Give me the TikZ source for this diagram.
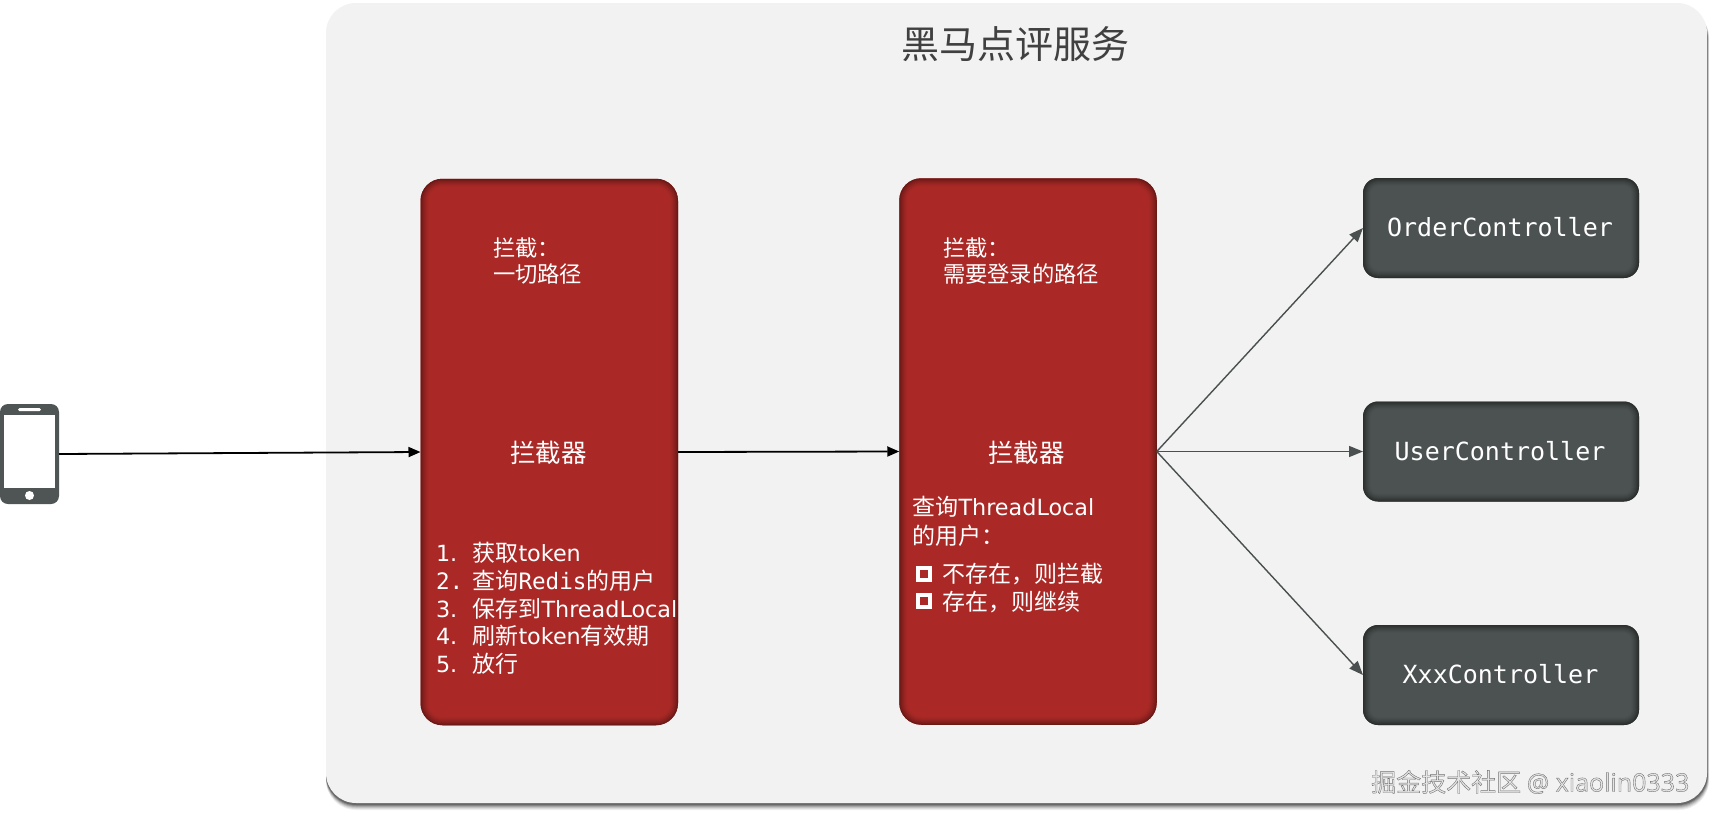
\documentclass[tikz,border=0pt]{standalone}
\usepackage{fontspec}
\setmainfont{Noto Sans CJK SC}
\newfontfamily\latf{DejaVu Sans}
\newfontfamily\wmf{Open Sans}
\newfontfamily\monof{DejaVu Sans Mono}
\usetikzlibrary{arrows.meta,calc}
\definecolor{panelc}{HTML}{F2F2F2}
\definecolor{redm}{HTML}{AA2926}
\definecolor{rede}{HTML}{6A1917}
\definecolor{darkm}{HTML}{4B5251}
\definecolor{darke}{HTML}{2B2F2E}
\definecolor{phonec}{HTML}{4F5555}
\definecolor{arrowc}{HTML}{4A4F4F}
\definecolor{titlec}{HTML}{404040}
\newcommand{\lat}[1]{{\latf\fontsize{22.3}{26}\selectfont #1}}
\tikzset{
  panelbox/.style={fill=panelc,rounded corners=30pt,minimum width=1381pt,minimum height=800pt,inner sep=0pt,outer sep=0pt},
  redbox/.style={fill=redm,rounded corners=22pt,minimum width=257.5pt,minimum height=546.5pt,inner sep=0pt,outer sep=0pt},
  darkbox/.style={fill=darkm,rounded corners=15pt,minimum width=276pt,minimum height=100pt,inner sep=0pt,outer sep=0pt},
  wtext/.style={text=white,inner sep=0pt,outer sep=0pt,align=left,anchor=north west,font=\fontsize{22.3}{26.3}\selectfont},
  ctext/.style={text=white,inner sep=0pt,outer sep=0pt,font=\fontsize{25.5}{30}\selectfont},
  monotext/.style={text=white,inner sep=0pt,outer sep=0pt,font=\monof\fontsize{25}{30}\selectfont},
  blackarrow/.style={draw=black,line width=1.8pt,-{Triangle[length=12pt,width=10pt]}},
  grayarrow/.style={draw=arrowc,line width=1.4pt,-{Triangle[length=14pt,width=11pt]}},
  bulletbox/.style={draw=white,line width=3.8pt,fill=redm,minimum size=12.4pt,inner sep=0pt,outer sep=0pt},
}
\newcommand{\glow}[4]{%
  \foreach \i/\c in {0/0,1/18,2/35,3/50,4/63,5/75,6/85,7/93}{
    \fill[#3!\c!#4,rounded corners=#2-\i pt] ($(#1.north west)+(\i,\i)$) rectangle ($(#1.south east)+(-\i,-\i)$);
  }
  \fill[#3,rounded corners=#2-8pt] ($(#1.north west)+(8,8)$) rectangle ($(#1.south east)+(-8,-8)$);
}
\begin{document}
\begin{tikzpicture}[x=1pt,y=-1pt]
\useasboundingbox (0,0) rectangle (1714,819);
\fill[white] (0,0) rectangle (1714,819);
% panel shadow
\foreach \o/\q in {7/0.06,6/0.08,5/0.10,4/0.14,3/0.18,2/0.25}{
  \fill[black,opacity=\q,rounded corners=30pt] (326,8) rectangle (1707+\o*0.3,803+\o);
}
\node[panelbox] (panel) at (1016.5,403) {};
\node[inner sep=0pt,text=titlec,font=\fontsize{38}{44}\selectfont] (title) at (1015,44) {黑马点评服务};

% boxes
\node[redbox] (box1) at (549.25,452) {};
\glow{box1}{22}{redm}{rede}
\node[redbox] (box2) at (1028,451.5) {};
\glow{box2}{22}{redm}{rede}
\node[darkbox] (c1) at (1501,228) {};
\glow{c1}{15}{darkm}{darke}
\node[darkbox] (c2) at (1501,451.5) {};
\glow{c2}{15}{darkm}{darke}
\node[darkbox] (c3) at (1501,675) {};
\glow{c3}{15}{darkm}{darke}

% phone
\node[fill=phonec,rounded corners=8pt,minimum width=59pt,minimum height=100pt,inner sep=0pt,outer sep=0pt] (phone) at (29.5,454) {};
\fill[white] ($(phone.north west)+(4,11)$) rectangle ($(phone.south east)+(-4,-16)$);
\fill[white,rounded corners=1.5pt] ($(phone.north)+(-11.5,4)$) rectangle ($(phone.north)+(11.5,7)$);
\fill[white] ($(phone.south)+(0,-8.5)$) circle (4.5pt);

% connectors
\draw[blackarrow] (phone.east) -- (box1.west);
\draw[blackarrow] (box1.east) -- (box2.west);
\draw[grayarrow] (box2.east) -- (c1.west);
\draw[grayarrow] (box2.east) -- (c2.west);
\draw[grayarrow] (box2.east) -- (c3.west);

% red box 1 text
\node[wtext] (t1a) at (493,237.5) {拦截：\\一切路径};
\node[ctext] (t1b) at (548.7,452.5) {拦截器};
\node[wtext,font=\fontsize{23}{27.6}\selectfont] (t1c) at (436,542.5) {%
  \makebox[36.5pt][l]{\lat{1.}}获取\lat{token}\\
  \makebox[36.5pt][l]{\monof\fontsize{22.6}{27.6}\selectfont 2.}查询{\monof\fontsize{22.6}{27.6}\selectfont Redis}的用户\\
  \makebox[36.5pt][l]{\lat{3.}}保存到\lat{ThreadLocal}\\
  \makebox[36.5pt][l]{\lat{4.}}刷新\lat{token}有效期\\
  \makebox[36.5pt][l]{\lat{5.}}放行};

% red box 2 text
\node[wtext] (t2a) at (943,237.5) {拦截：\\需要登录的路径};
\node[ctext] (t2b) at (1026.4,452.5) {拦截器};
\node[wtext,font=\fontsize{23}{28.5}\selectfont] (t2c) at (912.5,496.5) {查询\lat{ThreadLocal}\\的用户：};
\node[bulletbox] (b1) at (924,574) {};
\node[wtext,anchor=west,font=\fontsize{23}{28}\selectfont] (t2d) at (942,574) {不存在，则拦截};
\node[bulletbox] (b2) at (924,601) {};
\node[wtext,anchor=west,font=\fontsize{23}{28}\selectfont] (t2e) at (942,602) {存在，则继续};

% controllers
\node[monotext] (n1) at (1500,227.5) {OrderController};
\node[monotext] (n2) at (1500,451.5) {UserController};
\node[monotext] (n3) at (1500.5,674.5) {XxxController};

% watermark
\node[inner sep=0pt,anchor=west,text=black!10,font=\fontsize{25}{30}\selectfont] (wm) at (1371,782) {\special{pdf:literal direct 2 Tr 0.4 w 0.45 G}掘金技术社区 {\wmf @ xiaolin0333}\special{pdf:literal direct 0 Tr}};
\end{tikzpicture}
\end{document}
